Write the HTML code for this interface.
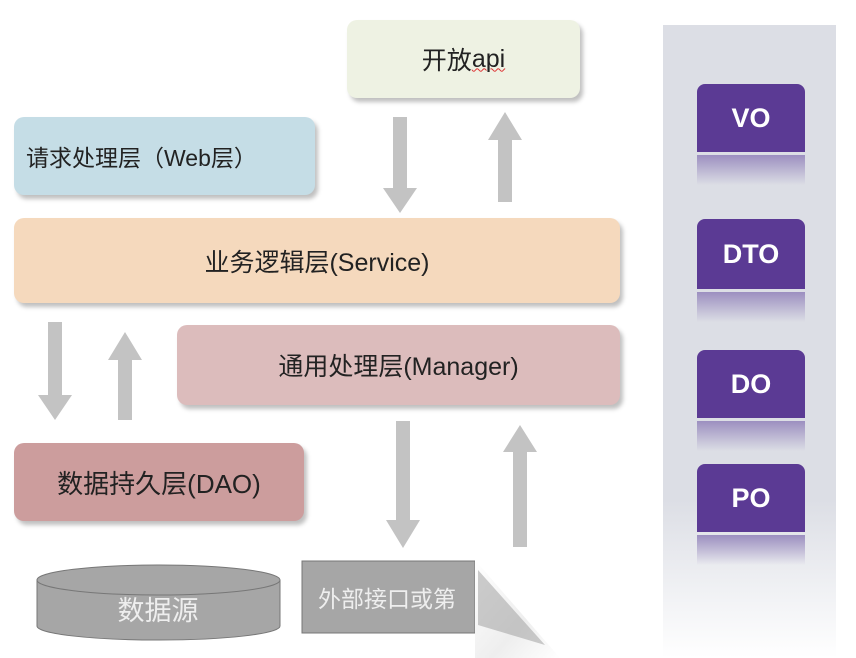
<!DOCTYPE html>
<html><head><meta charset="utf-8"><style>
body{margin:0;width:856px;height:658px;background:#fff;position:relative;overflow:hidden;font-family:"Liberation Sans","Noto Sans CJK SC",sans-serif}
.b{position:absolute;border-radius:10px;box-shadow:3px 4px 4px rgba(0,0,0,.25);display:flex;align-items:center;justify-content:center;color:#222;font-size:25px}
.p{position:absolute;left:697px;width:108px;background:#5b3a94;color:#fff;font-weight:bold;font-size:27px;display:flex;align-items:center;justify-content:center;border-radius:8px 8px 0 0}
.r{position:absolute;left:697px;width:108px;height:30px;background:linear-gradient(#9c8fc0,rgba(220,222,229,0))}
</style></head><body>
<div style="position:absolute;left:663px;top:25px;width:173px;height:633px;background:linear-gradient(#dcdee5 0%,#dcdee5 75%,#fff 100%)"></div>
<div class="b" style="left:347px;top:20px;width:233px;height:78px;background:#eef2e3">开放<span style="text-decoration:underline wavy #d33;text-decoration-thickness:1px">api</span></div>
<div class="b" style="left:14px;top:117px;width:301px;height:78px;background:#c5dde6;justify-content:flex-start;padding-left:12px;box-sizing:border-box;font-size:23px">请求处理层（Web层）</div>
<div class="b" style="left:14px;top:218px;width:606px;height:85px;background:#f5d9bd">业务逻辑层(Service)</div>
<div class="b" style="left:177px;top:325px;width:443px;height:80px;background:#dcbcbc">通用处理层(Manager)</div>
<div class="b" style="left:14px;top:443px;width:290px;height:78px;background:#cc9d9d;font-size:26px">数据持久层(DAO)</div>
<svg style="position:absolute;left:0;top:0" width="856" height="658">
<g fill="#c3c3c3">
<polygon points="393,117 407,117 407,188 417,188 400,213 383,188 393,188"/>
<polygon points="498,202 512,202 512,140 522,140 505,112 488,140 498,140"/>
<polygon points="48,322 62,322 62,395 72,395 55,420 38,395 48,395"/>
<polygon points="118,420 132,420 132,360 142,360 125,332 108,360 118,360"/>
<polygon points="396,421 410,421 410,520 420,520 403,548 386,520 396,520"/>
<polygon points="513,547 527,547 527,452 537,452 520,425 503,452 513,452"/>
</g>
<path d="M37,580 L37,626 A121,14 0 0 0 280,626 L280,580 Z" fill="#a6a6a6" stroke="#777"/>
<ellipse cx="158.5" cy="580" rx="121.5" ry="15" fill="#a6a6a6" stroke="#777"/>
<text x="158" y="620" fill="#eee" font-size="27" text-anchor="middle" font-family="Liberation Sans,Noto Sans CJK SC,sans-serif">数据源</text>
<rect x="302" y="561" width="173" height="72" fill="#a6a6a6" stroke="#777"/>
<text x="318" y="607" fill="#eee" font-size="23" font-family="Liberation Sans,Noto Sans CJK SC,sans-serif">外部接口或第</text>
<defs><linearGradient id="g" x1="0" y1="0" x2="1" y2="1"><stop offset="0" stop-color="#fff"/><stop offset=".6" stop-color="#eee"/><stop offset="1" stop-color="#fff"/></linearGradient></defs>
<polygon points="475,560 560,658 475,658 475,630" fill="url(#g)"/>
<polygon points="478,570 478,625 545,645" fill="#999" opacity=".5"/>
</svg>
<div class="p" style="top:84px;height:68px">VO</div><div class="r" style="top:155px"></div>
<div class="p" style="top:219px;height:70px">DTO</div><div class="r" style="top:292px"></div>
<div class="p" style="top:350px;height:68px">DO</div><div class="r" style="top:421px"></div>
<div class="p" style="top:464px;height:68px">PO</div><div class="r" style="top:535px"></div>
</body></html>
